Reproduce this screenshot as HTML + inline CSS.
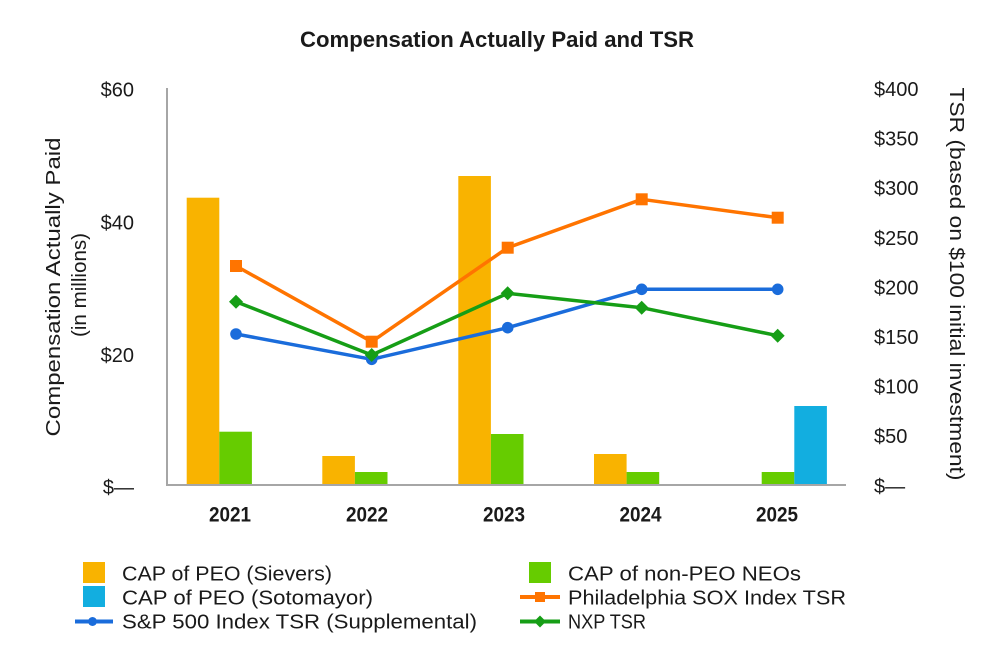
<!DOCTYPE html>
<html>
<head>
<meta charset="utf-8">
<style>
  html,body{margin:0;padding:0;background:#fff;}
  svg{display:block;}
  text{font-family:"Liberation Sans",sans-serif;fill:#1a1a1a;}
</style>
</head>
<body>
<svg width="1000" height="672" viewBox="0 0 1000 672" xmlns="http://www.w3.org/2000/svg">
  <!-- Title -->
  <text x="300" y="47" font-size="22" font-weight="bold" textLength="394" lengthAdjust="spacingAndGlyphs" fill="#000">Compensation Actually Paid and TSR</text>

  <!-- Left tick labels -->
  <g font-size="20" text-anchor="end">
    <text x="134" y="96.5">$60</text>
    <text x="134" y="229.5">$40</text>
    <text x="134" y="362">$20</text>
    <text x="134" y="494">$—</text>
  </g>

  <!-- Right tick labels -->
  <g font-size="20">
    <text x="874" y="96">$400</text>
    <text x="874" y="145.6">$350</text>
    <text x="874" y="195.2">$300</text>
    <text x="874" y="244.8">$250</text>
    <text x="874" y="294.4">$200</text>
    <text x="874" y="344">$150</text>
    <text x="874" y="393.6">$100</text>
    <text x="874" y="443.2">$50</text>
    <text x="874" y="492.8">$—</text>
  </g>

  <!-- Left axis title -->
  <text transform="translate(60,287) rotate(-90)" text-anchor="middle" font-size="20" textLength="299" lengthAdjust="spacingAndGlyphs">Compensation Actually Paid</text>
  <text transform="translate(86,285) rotate(-90)" text-anchor="middle" font-size="20" textLength="104" lengthAdjust="spacingAndGlyphs">(in millions)</text>

  <!-- Right axis title -->
  <text transform="translate(950,284) rotate(90)" text-anchor="middle" font-size="20" textLength="393" lengthAdjust="spacingAndGlyphs">TSR (based on $100 initial investment)</text>

  <!-- Bars -->
  <g>
    <rect x="186.7" y="197.7" width="32.6" height="286.3" fill="#F9B300"/>
    <rect x="219.3" y="431.7" width="32.6" height="52.3" fill="#66CC00"/>

    <rect x="322.3" y="456" width="32.6" height="28" fill="#F9B300"/>
    <rect x="354.9" y="472" width="32.6" height="12" fill="#66CC00"/>

    <rect x="458.3" y="176" width="32.6" height="308" fill="#F9B300"/>
    <rect x="490.9" y="434" width="32.6" height="50" fill="#66CC00"/>

    <rect x="594" y="454" width="32.6" height="30" fill="#F9B300"/>
    <rect x="626.6" y="472" width="32.6" height="12" fill="#66CC00"/>

    <rect x="761.7" y="472" width="32.6" height="12" fill="#66CC00"/>
    <rect x="794.3" y="406" width="32.6" height="78" fill="#12AEE0"/>
  </g>

  <!-- Axes -->
  <line x1="167" y1="88" x2="167" y2="486" stroke="#a6a6a6" stroke-width="2"/>
  <line x1="166" y1="485" x2="846" y2="485" stroke="#a6a6a6" stroke-width="2"/>

  <!-- Year labels -->
  <g font-size="21" font-weight="bold" text-anchor="middle" fill="#000">
    <text x="230" y="521.5" textLength="42" lengthAdjust="spacingAndGlyphs">2021</text>
    <text x="367" y="521.5" textLength="42" lengthAdjust="spacingAndGlyphs">2022</text>
    <text x="504" y="521.5" textLength="42" lengthAdjust="spacingAndGlyphs">2023</text>
    <text x="640.5" y="521.5" textLength="42" lengthAdjust="spacingAndGlyphs">2024</text>
    <text x="777" y="521.5" textLength="42" lengthAdjust="spacingAndGlyphs">2025</text>
  </g>

  <!-- S&P 500 line (blue) -->
  <polyline points="236,334 371.7,359.3 507.7,327.7 641.7,289.3 777.7,289.3" fill="none" stroke="#1A6CDB" stroke-width="3.5" stroke-linejoin="round"/>
  <g fill="#1A6CDB">
    <circle cx="236" cy="334" r="5.8"/>
    <circle cx="371.7" cy="359.3" r="5.8"/>
    <circle cx="507.7" cy="327.7" r="5.8"/>
    <circle cx="641.7" cy="289.3" r="5.8"/>
    <circle cx="777.7" cy="289.3" r="5.8"/>
  </g>

  <!-- NXP line (green) -->
  <polyline points="236,301.7 371.7,355 507.7,293.3 641.7,307.7 777.7,335.7" fill="none" stroke="#169E16" stroke-width="3.5" stroke-linejoin="round"/>
  <g fill="#169E16">
    <polygon points="236,294.7 243,301.7 236,308.7 229,301.7"/>
    <polygon points="371.7,348 378.7,355 371.7,362 364.7,355"/>
    <polygon points="507.7,286.3 514.7,293.3 507.7,300.3 500.7,293.3"/>
    <polygon points="641.7,300.7 648.7,307.7 641.7,314.7 634.7,307.7"/>
    <polygon points="777.7,328.7 784.7,335.7 777.7,342.7 770.7,335.7"/>
  </g>

  <!-- Philadelphia SOX line (orange) -->
  <polyline points="236,266 371.7,341.7 507.7,247.7 641.7,199.3 777.7,217.7" fill="none" stroke="#FF7400" stroke-width="3.5" stroke-linejoin="round"/>
  <g fill="#FF7400">
    <rect x="230" y="260" width="12" height="12"/>
    <rect x="365.7" y="335.7" width="12" height="12"/>
    <rect x="501.7" y="241.7" width="12" height="12"/>
    <rect x="635.7" y="193.3" width="12" height="12"/>
    <rect x="771.7" y="211.7" width="12" height="12"/>
  </g>

  <!-- Legend -->
  <rect x="83" y="562" width="22" height="21" fill="#F9B300"/>
  <rect x="83" y="586" width="22" height="21" fill="#12AEE0"/>
  <line x1="75" y1="621.5" x2="113" y2="621.5" stroke="#1A6CDB" stroke-width="4"/>
  <circle cx="92.5" cy="621.5" r="4.5" fill="#1A6CDB"/>

  <rect x="529" y="562" width="22" height="21" fill="#66CC00"/>
  <line x1="520" y1="597" x2="560" y2="597" stroke="#FF7400" stroke-width="4"/>
  <rect x="535" y="592" width="10" height="10" fill="#FF7400"/>
  <line x1="520" y1="621.5" x2="560" y2="621.5" stroke="#169E16" stroke-width="4"/>
  <polygon points="540,615.5 546,621.5 540,627.5 534,621.5" fill="#169E16"/>

  <g font-size="20.5">
    <text x="122" y="580.5" textLength="210" lengthAdjust="spacingAndGlyphs">CAP of PEO (Sievers)</text>
    <text x="122" y="604.5" textLength="251" lengthAdjust="spacingAndGlyphs">CAP of PEO (Sotomayor)</text>
    <text x="122" y="628.5" textLength="355" lengthAdjust="spacingAndGlyphs">S&amp;P 500 Index TSR (Supplemental)</text>
    <text x="568" y="580.5" textLength="233" lengthAdjust="spacingAndGlyphs">CAP of non-PEO NEOs</text>
    <text x="568" y="604.5" textLength="278" lengthAdjust="spacingAndGlyphs">Philadelphia SOX Index TSR</text>
    <text x="568" y="628.5" textLength="78" lengthAdjust="spacingAndGlyphs">NXP TSR</text>
  </g>
</svg>
</body>
</html>
